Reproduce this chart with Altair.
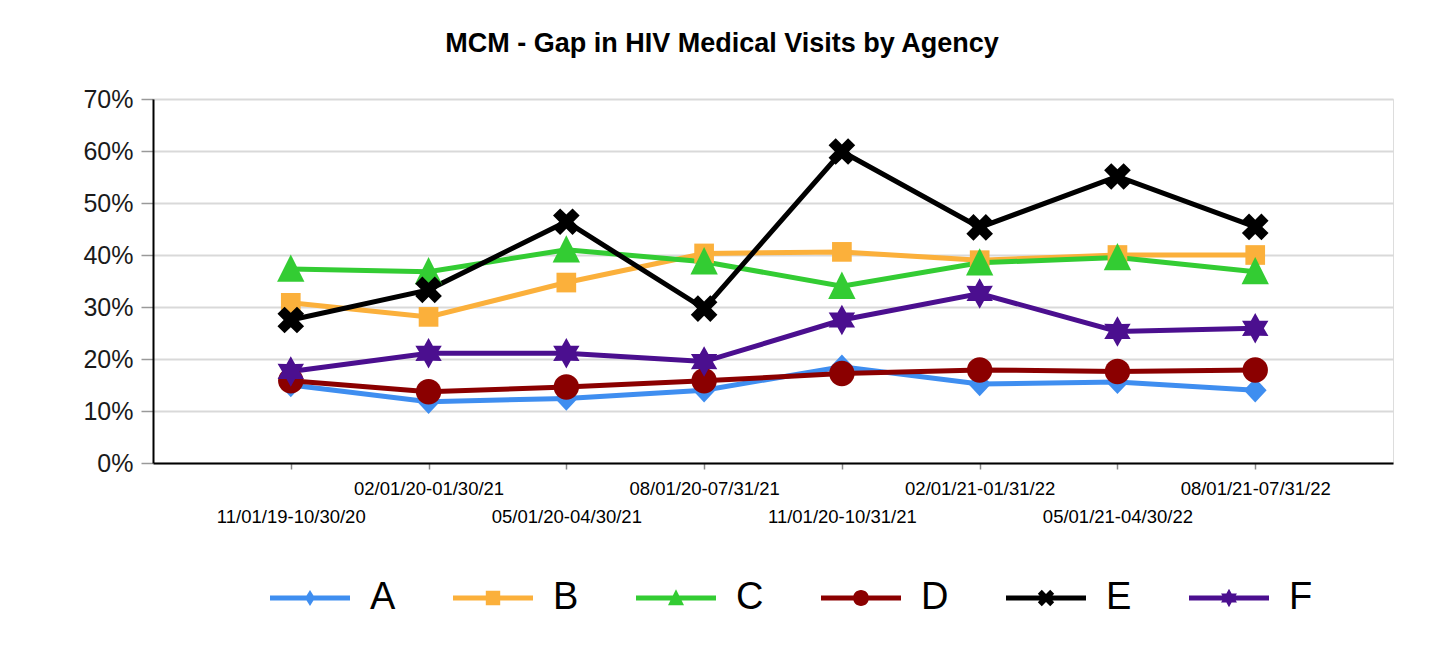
import math
import altair as alt
import pandas as pd

# ---- data ----
periods = [
    "11/01/19-10/30/20", "02/01/20-01/30/21", "05/01/20-04/30/21", "08/01/20-07/31/21",
    "11/01/20-10/31/21", "02/01/21-01/31/22", "05/01/21-04/30/22", "08/01/21-07/31/22",
]
agencies = ["A", "B", "C", "D", "E", "F"]
vals_A = [15.0, 11.8, 12.4, 14.0, 18.5, 15.2, 15.6, 14.0]
vals_B = [30.8, 28.1, 34.7, 40.3, 40.6, 39.0, 40.0, 40.0]
vals_C = [37.3, 36.8, 41.0, 38.7, 34.0, 38.5, 39.5, 36.8]
vals_D = [15.8, 13.7, 14.6, 15.8, 17.2, 17.9, 17.6, 17.9]
vals_E = [27.5, 33.3, 46.4, 29.7, 59.9, 45.3, 55.1, 45.4]
vals_F = [17.6, 21.1, 21.1, 19.5, 27.5, 32.6, 25.3, 25.9]
y_ticks = [0, 0.1, 0.2, 0.3, 0.4, 0.5, 0.6, 0.7]

colors = ["#3f8ef0", "#fbb03b", "#33cc33", "#8b0000", "#000000", "#4b0f8f"]

series = dict(zip(agencies, [vals_A, vals_B, vals_C, vals_D, vals_E, vals_F]))
rows = []
for ag in agencies:
    for p, v in zip(periods, series[ag]):
        rows.append({"period": p, "agency": ag, "value": v / 100.0})
df = pd.DataFrame(rows)


# ---- marker shapes (SVG paths, unit coordinates) ----
def poly(pts):
    return "M" + "L".join(f"{x:.3f},{y:.3f}" for x, y in pts) + "Z"


def diamond(w, h):
    return poly([(0, -h), (w, 0), (0, h), (-w, 0)])


def square(s):
    return poly([(-s, -s), (s, -s), (s, s), (-s, s)])


def triangle(top, bot, hw):
    return poly([(0, -top), (hw, bot), (-hw, bot)])


def circle(r):
    return f"M{r},0A{r},{r},0,1,1,{-r},0A{r},{r},0,1,1,{r},0Z"


def xcross(a, L):
    plus = [(a, -L), (a, -a), (L, -a), (L, a), (a, a), (a, L),
            (-a, L), (-a, a), (-L, a), (-L, -a), (-a, -a), (-a, -L)]
    s = 1 / math.sqrt(2)
    return poly([((x - y) * s, (x + y) * s) for x, y in plus])


def star(R, r, n=6):
    pts = []
    for i in range(2 * n):
        ang = math.pi * i / n
        rad = R if i % 2 == 0 else r
        pts.append((rad * math.sin(ang), -rad * math.cos(ang)))
    return poly(pts)


marker_paths = [
    diamond(0.95, 1.02),
    square(0.82),
    triangle(1.22, 1.06, 1.14),
    circle(1.06),
    xcross(0.42, 1.15),
    star(1.27, 0.72),
]

bar = "M-1,-0.0625L1,-0.0625L1,0.0625L-1,0.0625Z"
legend_paths = [
    bar + diamond(0.125, 0.2),
    bar + square(0.18),
    bar + triangle(0.22, 0.18, 0.2),
    bar + circle(0.2),
    bar + xcross(0.07, 0.22),
    bar + star(0.23, 0.13),
]

FONT = "Liberation Sans"

label_list = "[" + ",".join(f"'{p}'" for p in periods) + "]"
x_enc = alt.X(
    "period:N",
    sort=periods,
    scale=alt.Scale(type="point", padding=1),
    axis=alt.Axis(
        title=None,
        labelAngle=0,
        labelFont=FONT,
        labelFontSize=18.5,
        labelColor="#000000",
        labelPadding=10,
        labelLineHeight=28,
        labelLimit=400,
        labelExpr=f"indexof({label_list}, datum.value) % 2 == 0 ? ['', datum.label] : datum.label",
        domainColor="#000000",
        domainWidth=2,
        tickColor="#888888",
        tickSize=6,
        tickWidth=1.5,
        grid=False,
    ),
)
y_enc = alt.Y(
    "value:Q",
    scale=alt.Scale(domain=[0, 0.7], nice=False, zero=True),
    axis=alt.Axis(
        title=None,
        format=".0%",
        values=y_ticks,
        labelFont=FONT,
        labelFontSize=25,
        labelColor="#1a1a1a",
        labelPadding=8,
        domainColor="#000000",
        domainWidth=2,
        tickColor="#999999",
        tickSize=12,
        tickWidth=1.5,
        grid=True,
        gridColor="#d9d9d9",
        gridWidth=2,
    ),
)

color_scale = alt.Scale(domain=agencies, range=colors)

base = alt.Chart(df)

lines = base.mark_line(strokeWidth=5).encode(
    x=x_enc,
    y=y_enc,
    color=alt.Color("agency:N", scale=color_scale, legend=None),
)

points = base.mark_point(filled=True, size=576, opacity=1, strokeWidth=0).encode(
    x=x_enc,
    y=y_enc,
    color=alt.Color("agency:N", scale=color_scale, legend=None),
    shape=alt.Shape("agency:N", scale=alt.Scale(domain=agencies, range=marker_paths), legend=None),
)

leg = alt.Legend(
    title=None,
    orient="none",
    legendX=117,
    legendY=459,
    direction="horizontal",
    columns=6,
    symbolSize=6400,
    symbolStrokeWidth=0,
    symbolOpacity=1,
    labelFont=FONT,
    labelFontSize=38,
    labelColor="#000000",
    labelOffset=20,
    columnPadding=57,
)

legend_layer = base.mark_point(filled=True, size=576, opacity=0, strokeWidth=0).encode(
    x=x_enc,
    y=y_enc,
    color=alt.Color("agency:N", scale=color_scale, legend=leg),
    shape=alt.Shape("agency:N", scale=alt.Scale(domain=agencies, range=legend_paths), legend=leg),
)

chart = (
    alt.layer(lines, points, legend_layer)
    .resolve_scale(color="independent", shape="independent")
    .properties(
        width=1240,
        height=364,
        padding={"left": 145, "top": 91, "right": 30, "bottom": 180},
        autosize=alt.AutoSizeParams(type="none"),
        title=alt.TitleParams(
            "MCM - Gap in HIV Medical Visits by Agency",
            font=FONT,
            fontSize=27,
            fontWeight="bold",
            color="#000000",
            anchor="middle",
            frame="group",
            baseline="alphabetic",
            offset=8,
            dx=-51,
        ),
    )
    .configure_view(stroke=None)
    .configure(background="white")
)

chart.save("out.html", embed_options={"renderer": "svg", "actions": False})
